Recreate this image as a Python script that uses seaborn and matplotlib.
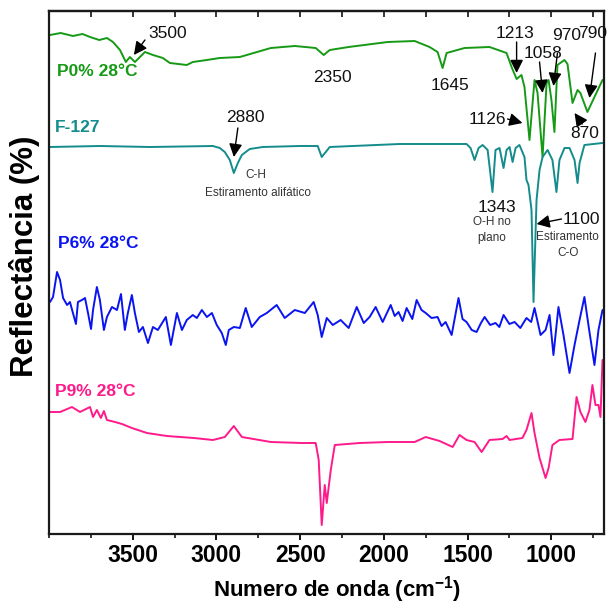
import numpy as np
import pandas as pd
import matplotlib
matplotlib.use("Agg")
import matplotlib.pyplot as plt
from matplotlib.ticker import MultipleLocator
import seaborn as sns

# Espectros FTIR (numero de onda, reflectancia desplazada, u.a.)
p0_wn = [3994, 3930, 3857, 3800, 3755, 3700, 3654, 3618, 3576, 3541, 3517, 3487, 3427,
         3379, 3320, 3278, 3177, 3141, 3057, 2980, 2860, 2675, 2532, 2407, 2359, 2323,
         2210, 1977, 1816, 1727, 1679, 1649, 1625, 1518, 1369, 1267, 1237, 1207, 1178,
         1160, 1130, 1100, 1082, 1052, 1028, 1016, 999, 981, 963, 921, 903, 873, 843,
         826, 784, 742, 694]
p0_val = [499, 501, 498, 500, 497, 494, 496, 492, 484, 472, 477, 472, 482,
          479, 476, 471, 469, 472, 474, 476, 477, 486, 488, 486, 479, 484,
          487, 492, 493, 487, 482, 466, 481, 486, 487, 481, 467, 455, 459,
          447, 394, 454, 441, 377, 451, 454, 434, 402, 469, 474, 470, 431, 444,
          441, 422, 437, 454]

f127_wn = [3994, 3696, 3397, 3021, 2980, 2950, 2920, 2896, 2872, 2848, 2801, 2723, 2502,
           2395, 2371, 2347, 2323, 1906, 1506, 1482, 1458, 1434, 1410, 1380, 1351, 1333,
           1309, 1285, 1267, 1249, 1231, 1213, 1190, 1160, 1148, 1136, 1118, 1106, 1088,
           1070, 1052, 1022, 993, 969, 951, 921, 891, 861, 843, 831, 802, 694]
f127_val = [387, 388, 387, 388, 386, 382, 374, 361, 371, 379, 385, 387, 388,
            388, 377, 382, 387, 390, 390, 386, 374, 386, 389, 384, 342, 384,
            386, 366, 384, 387, 372, 386, 389, 377, 354, 349, 324, 232, 334,
            364, 377, 384, 374, 342, 374, 386, 386, 374, 351, 371, 389, 391]

p6_wn = [3994, 3976, 3952, 3934, 3916, 3892, 3875, 3857, 3839, 3827, 3803, 3785, 3767,
         3749, 3737, 3714, 3696, 3672, 3654, 3624, 3594, 3570, 3547, 3529, 3505, 3487,
         3463, 3439, 3409, 3379, 3350, 3302, 3272, 3236, 3206, 3177, 3141, 3117, 3087,
         3057, 3027, 2998, 2968, 2944, 2926, 2896, 2860, 2825, 2789, 2741, 2699, 2640,
         2592, 2532, 2472, 2419, 2395, 2371, 2341, 2305, 2258, 2210, 2162, 2120, 2085,
         2049, 2007, 1959, 1935, 1912, 1888, 1864, 1830, 1804, 1775, 1750, 1715, 1679,
         1655, 1631, 1595, 1554, 1530, 1506, 1475, 1446, 1420, 1398, 1365, 1333, 1310,
         1285, 1250, 1219, 1185, 1148, 1120, 1100, 1064, 1034, 1010, 987, 957, 927, 891,
         861, 831, 802, 778, 742, 718, 694]
p6_val = [232, 237, 262, 254, 236, 229, 232, 221, 210, 232, 234, 236, 221,
          205, 224, 247, 234, 204, 217, 227, 224, 240, 204, 221, 239, 221,
          202, 207, 191, 207, 204, 217, 189, 221, 204, 214, 219, 216, 224,
          217, 221, 209, 201, 189, 204, 207, 206, 226, 207, 217, 221, 229,
          216, 224, 221, 232, 219, 197, 216, 209, 214, 206, 227, 211, 217,
          227, 212, 229, 218, 222, 213, 226, 215, 234, 224, 221, 216, 217,
          208, 212, 199, 236, 215, 212, 204, 202, 211, 217, 209, 211, 207,
          219, 210, 212, 206, 216, 212, 226, 199, 204, 219, 179, 227, 199, 161,
          189, 214, 237, 209, 169, 204, 224]

p9_wn = [3994, 3934, 3863, 3815, 3755, 3737, 3714, 3690, 3672, 3654, 3606, 3564, 3505,
         3415, 3296, 3135, 3021, 2950, 2896, 2848, 2675, 2490, 2407, 2389, 2371, 2353,
         2341, 2317, 2293, 2144, 1977, 1816, 1750, 1667, 1589, 1548, 1506, 1458, 1416,
         1369, 1291, 1267, 1249, 1172, 1148, 1118, 1100, 1070, 1034, 1016, 993, 951,
         873, 849, 826, 796, 772, 754, 736, 718, 706, 694]
p9_val = [122, 122, 127, 122, 127, 117, 124, 116, 123, 114, 112, 110, 106,
          101, 98, 96, 94, 97, 108, 97, 92, 91, 91, 74, 9, 49,
          31, 64, 89, 91, 92, 92, 97, 93, 87, 99, 94, 92, 82,
          94, 95, 98, 94, 96, 104, 121, 101, 76, 56, 66, 89, 94,
          95, 137, 122, 112, 124, 149, 129, 129, 117, 174]

series_names = ["P0% 28°C", "F-127", "P6% 28°C", "P9% 28°C"]
series_colors = ["#169a16", "#148c8c", "#0a14f0", "#ff1a8c"]

frames = []
for name, wn, val in zip(series_names,
                         [p0_wn, f127_wn, p6_wn, p9_wn],
                         [p0_val, f127_val, p6_val, p9_val]):
    frames.append(pd.DataFrame({"wn": wn, "val": val, "muestra": name}))
df = pd.concat(frames, ignore_index=True)

sns.set_theme(style="ticks")
plt.rcParams["font.family"] = ["Liberation Sans", "DejaVu Sans"]
plt.rcParams["mathtext.fontset"] = "custom"
plt.rcParams["mathtext.rm"] = "Liberation Sans"
plt.rcParams["mathtext.bf"] = "Liberation Sans:bold"

fig = plt.figure(figsize=(6.08, 6.09), dpi=100)
ax = fig.add_axes([49 / 608, 75 / 609, 555 / 608, 523 / 609])

sns.lineplot(data=df, x="wn", y="val", hue="muestra", palette=series_colors,
             hue_order=series_names, sort=False, estimator=None, lw=1.4,
             legend=False, ax=ax)

ax.set_xlim(4000, 685)
ax.set_ylim(0, 523)
ax.set_xlabel("")
ax.set_ylabel("")
ax.set_yticks([])
ax.xaxis.set_minor_locator(MultipleLocator(250))
ax.set_xticks([3500, 3000, 2500, 2000, 1500, 1000])
ax.tick_params(axis="x", which="major", direction="out", length=4, width=1.3,
               pad=3, colors="black", bottom=True, top=False)
ax.tick_params(axis="x", which="minor", direction="out", length=3, width=1.3,
               bottom=True, top=False)
for lab in ax.get_xticklabels():
    lab.set_fontweight("bold")
    lab.set_fontsize(16.5)

# ticks hacia dentro en el eje superior
top = ax.secondary_xaxis("top")
top.set_xticks([3500, 3000, 2500, 2000, 1500, 1000])
top.xaxis.set_minor_locator(MultipleLocator(250))
top.tick_params(which="both", direction="in", length=4, width=1.3, labeltop=False)
top.spines["top"].set_linewidth(1.6)

for sp in ax.spines.values():
    sp.set_linewidth(1.6)
    sp.set_color("#1a1a1a")

# etiquetas de las muestras
label_pos = [(3952, 462), (3964, 406), (3946, 290), (3964, 143)]
for name, col, (lx, ly) in zip(series_names, series_colors, label_pos):
    ax.text(lx, ly, name, color=col, fontsize=12.5, fontweight="bold", va="center",
            ha="left")

# numeros de pico
peak_labels = [("3500", 3290, 501), ("2350", 2305, 456), ("1645", 1607, 449),
               ("1213", 1219, 501), ("1058", 1052, 481), ("970", 909, 498),
               ("790", 754, 501), ("870", 802, 400), ("1126", 1380, 414),
               ("2880", 2825, 416), ("1343", 1327, 327), ("1100", 820, 314)]
for txt, tx, ty in peak_labels:
    ax.text(tx, ty, txt, fontsize=12.5, ha="center", va="center", color="#111111",
            clip_on=False)

# flechas (cola -> punta)
arrows = [((3427, 494), (3493, 479)), ((1207, 492), (1207, 461)),
          ((1070, 472), (1052, 441)), ((963, 481), (987, 448)),
          ((736, 481), (772, 436)), ((815, 410), (861, 421)),
          ((1261, 415), (1172, 411)), ((2872, 406), (2896, 377)),
          ((939, 315), (1088, 310))]
for tail, tip in arrows:
    ax.annotate("", xy=tip, xytext=tail,
                arrowprops=dict(arrowstyle="-|>,head_length=0.66,head_width=0.33",
                                color="black", lw=1.0, mutation_scale=12,
                                shrinkA=0, shrinkB=0))

notes = [("C-H", 2765, 359), ("Estiramento alifático", 2753, 341),
         ("O-H no", 1357, 312), ("plano", 1357, 296),
         ("Estiramento", 903, 297), ("C-O", 897, 281)]
for txt, tx, ty in notes:
    ax.text(tx, ty, txt, fontsize=8.5, ha="center", va="center", color="#333333")

fig.text(25 / 608, 1 - 256 / 609, "Reflectância (%)", rotation=90, ha="center",
         va="center", fontsize=22.5, fontweight="bold", color="black")
fig.text(337 / 608, 1 - 590 / 609, "Numero de onda (cm$^{\\mathbf{-1}}$)", ha="center",
         va="center", fontsize=16, fontweight="bold", color="black")

fig.savefig("out.png", dpi=100)
